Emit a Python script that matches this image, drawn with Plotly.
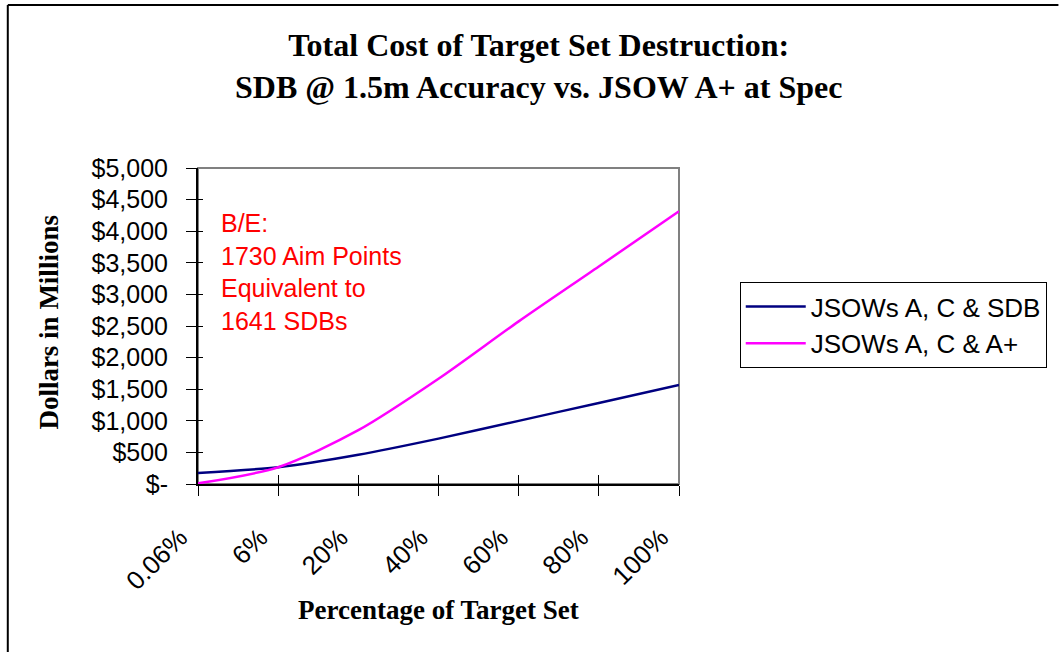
import plotly.graph_objects as go

categories = ["0.06%", "6%", "20%", "40%", "60%", "80%", "100%"]
sdb_values = [175, 266, 463, 718, 999, 1283, 1568]
aplus_values = [10, 266, 851, 1665, 2573, 3442, 4316]
series_names = ["JSOWs A, C & SDB", "JSOWs A, C & A+"]
y_tickvals = [0, 500, 1000, 1500, 2000, 2500, 3000, 3500, 4000, 4500, 5000]
y_ticktext = ["$-", "$500", "$1,000", "$1,500", "$2,000", "$2,500",
              "$3,000", "$3,500", "$4,000", "$4,500", "$5,000"]
title_lines = ["Total Cost of Target Set Destruction:", "SDB @ 1.5m Accuracy vs. JSOW A+ at Spec"]
note_lines = ["B/E:", "1730 Aim Points", "Equivalent to", "1641 SDBs"]
x_title = "Percentage of Target Set"
y_title = "Dollars in Millions"

W, H = 1059, 652
L, R, T, B = 198, 681, 168, 484


def px_x(x):
    return (x - L) / (R - L)


def px_y(y):
    return (B - y) / (B - T)


ARIAL = "Liberation Sans, Arial, sans-serif"
TIMES = "Liberation Serif, Times New Roman, serif"

fig = go.Figure()
fig.add_trace(go.Scatter(x=categories, y=sdb_values, name=series_names[0], mode="lines",
                         line=dict(color="#000080", width=2.5, shape="spline", smoothing=0.8),
                         hoverinfo="skip"))
fig.add_trace(go.Scatter(x=categories, y=aplus_values, name=series_names[1], mode="lines",
                         line=dict(color="#FF00FF", width=2.5, shape="spline", smoothing=0.8),
                         hoverinfo="skip"))
# invisible trace to carry overlay axes (inside halves of the crossing tick marks)
fig.add_trace(go.Scatter(x=categories, y=sdb_values, xaxis="x2", yaxis="y2", mode="lines",
                         line=dict(width=0), opacity=0, showlegend=False, hoverinfo="skip"))

fig.update_layout(
    width=W, height=H,
    margin=dict(l=L, r=W - R, t=T, b=H - B, pad=0),
    paper_bgcolor="white", plot_bgcolor="white",
    showlegend=True,
    xaxis=dict(type="category", range=[0, 6], showgrid=False, zeroline=False,
               showline=True, linecolor="#000000", linewidth=2,
               ticks="outside", ticklen=10, tickwidth=1, tickcolor="#000000",
               tickangle=-45, ticklabelstandoff=16, ticklabelshift=-18,
               tickfont=dict(family=ARIAL, size=26, color="#000000")),
    yaxis=dict(range=[0, 5000], showgrid=False, zeroline=False,
               showline=True, linecolor="#000000", linewidth=2,
               tickvals=y_tickvals, ticktext=y_ticktext,
               ticks="outside", ticklen=10, tickwidth=1, tickcolor="#000000",
               ticklabelstandoff=13,
               tickfont=dict(family=ARIAL, size=25, color="#000000")),
    xaxis2=dict(type="category", range=[0, 6], overlaying="x", showgrid=False, zeroline=False,
                showline=False, ticks="inside", ticklen=9, tickwidth=1, tickcolor="#000000",
                showticklabels=False, anchor="y2"),
    yaxis2=dict(range=[0, 5000], overlaying="y", showgrid=False, zeroline=False,
                showline=False, tickvals=y_tickvals, ticks="inside", ticklen=5,
                tickwidth=1, tickcolor="#000000", showticklabels=False, anchor="x2"),
    legend=dict(x=px_x(742), y=px_y(282), xanchor="left", yanchor="top",
                bordercolor="#000000", borderwidth=1, bgcolor="white",
                itemwidth=60,
                font=dict(family=ARIAL, size=26, color="#000000"),
                tracegroupgap=0),
)

fig.add_shape(type="rect", xref="paper", yref="paper", x0=0, x1=1, y0=0, y1=1,
              line=dict(color="#808080", width=2), layer="below")
# outer chart border (top and left)
fig.add_shape(type="line", xref="paper", yref="paper", x0=px_x(7), x1=px_x(1062),
              y0=px_y(5), y1=px_y(5), line=dict(color="#000000", width=2))
fig.add_shape(type="line", xref="paper", yref="paper", x0=px_x(7), x1=px_x(7),
              y0=px_y(5), y1=px_y(660), line=dict(color="#000000", width=2))

fig.add_annotation(text="<br>".join("<b>" + s + "</b>" for s in title_lines),
                   xref="paper", yref="paper", x=px_x(540), y=px_y(66),
                   xanchor="center", yanchor="middle", showarrow=False,
                   font=dict(family=TIMES, size=32, color="#000000"))
fig.add_annotation(text="<b>" + x_title + "</b>", xref="paper", yref="paper",
                   x=px_x(439), y=px_y(610), xanchor="center", yanchor="middle",
                   showarrow=False, font=dict(family=TIMES, size=27, color="#000000"))
fig.add_annotation(text="<b>" + y_title + "</b>", xref="paper", yref="paper",
                   x=px_x(48), y=px_y(322), xanchor="center", yanchor="middle",
                   textangle=-90, showarrow=False,
                   font=dict(family=TIMES, size=27, color="#000000"))
fig.add_annotation(text="<br>".join(note_lines), xref="paper", yref="paper",
                   x=px_x(219), y=px_y(272), xanchor="left", yanchor="middle", align="left",
                   showarrow=False, font=dict(family=ARIAL, size=25, color="#FF0000"))

fig.write_html("out.html", config={"displayModeBar": False},
               post_script="document.body.style.margin='0';")
